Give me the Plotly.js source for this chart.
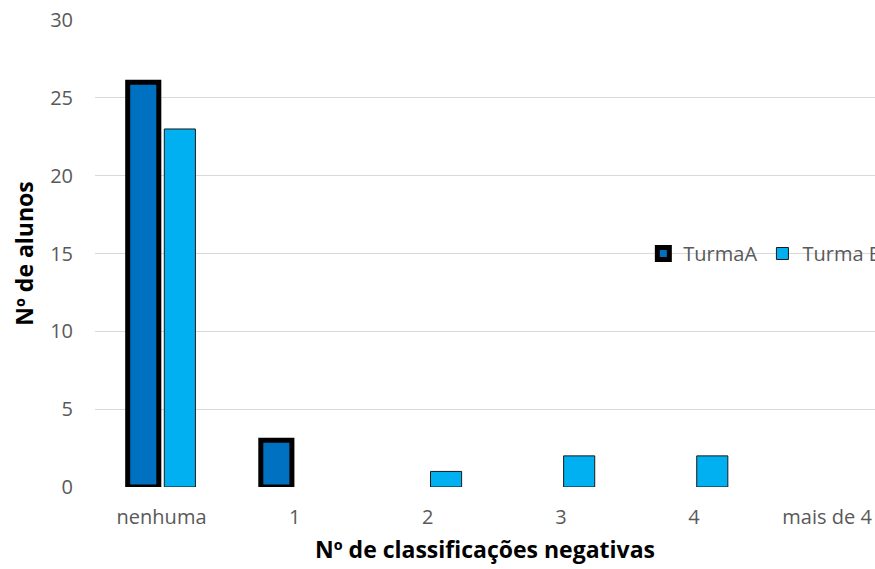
<!DOCTYPE html>
<html><head><meta charset="utf-8">
<script src="https://cdn.plot.ly/plotly-3.0.1.min.js"></script>
<style>body{margin:0;background:#fff}#chart{width:875px;height:569px}</style>
</head><body><div id="chart"></div>
<script>
const categories = ['nenhuma', '1', '2', '3', '4', 'mais de 4'];
const turmaA = [26, 3, 0, 0, 0, 0];
const turmaB = [23, 0, 1, 2, 2, 0];
const seriesNames = ['TurmaA', 'Turma B'];

const FONT = '"Open Sans", "DejaVu Sans", sans-serif';
const TXT = '#595959';
// zero-valued bars are not drawn in the reference
const hideZero = arr => arr.map(v => (v === 0 ? null : v));

const data = [
  {type: 'bar', name: seriesNames[0], x: categories, y: hideZero(turmaA),
   marker: {color: '#0070C0', line: {color: '#000000', width: 5}}, cliponaxis: false},
  {type: 'bar', name: seriesNames[1], x: categories, y: hideZero(turmaB),
   marker: {color: '#00B0F0', line: {color: '#1a1a1a', width: 1}}, cliponaxis: false}
];

const layout = {
  width: 875, height: 569,
  margin: {l: 95, r: 0, t: 20, b: 82, autoexpand: false},
  paper_bgcolor: '#ffffff', plot_bgcolor: '#ffffff',
  font: {family: FONT, color: TXT, size: 20},
  barmode: 'group', bargap: 0.45, bargroupgap: 0.15,
  showlegend: true,
  legend: {orientation: 'h', x: 0.703, xanchor: 'left', y: 0.5, yanchor: 'middle',
           itemwidth: 30,
           font: {family: FONT, size: 20, color: TXT}, bgcolor: 'rgba(0,0,0,0)'},
  xaxis: {type: 'category', range: [-0.5, 5.36], showgrid: false, zeroline: false,
          showline: false, ticks: '', ticklabelstandoff: 16,
          tickfont: {family: FONT, size: 20, color: TXT},
          title: {text: 'Nº de classificações negativas', standoff: 12,
                  font: {family: FONT, size: 23, color: '#000000', weight: 'bold'}}},
  yaxis: {range: [0, 30], dtick: 5, showgrid: true, gridcolor: '#D9D9D9', gridwidth: 1.3,
          zeroline: false, showline: false, ticks: '', ticklabelstandoff: 21,
          tickfont: {family: FONT, size: 20, color: TXT},
          title: {text: 'Nº de alunos', standoff: 10,
                  font: {family: FONT, size: 23, color: '#000000', weight: 'bold'}}}
};

Plotly.newPlot('chart', data, layout, {displayModeBar: false, staticPlot: true});
</script>
</body></html>
